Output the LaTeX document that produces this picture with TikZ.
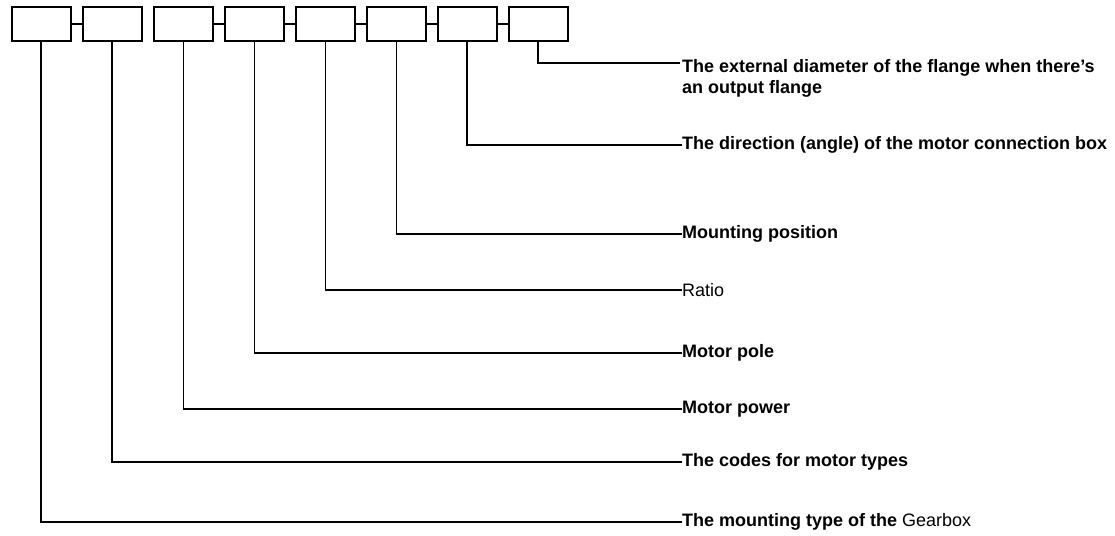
\documentclass[tikz,border=0pt]{standalone}
\usepackage{fontspec}
\setmainfont{Liberation Sans}
\begin{document}
\begin{tikzpicture}[x=1pt,y=-1pt,
  codebox/.style={draw,line width=2pt,minimum width=59pt,minimum height=34pt,inner sep=0pt},
  lead/.style={line width=1.8pt},
  lbl/.style={anchor=west,inner sep=0pt,font=\fontsize{18}{21}\selectfont\bfseries,align=left},
  lbln/.style={anchor=west,inner sep=0pt,font=\fontsize{18}{21}\selectfont,align=left}]
\useasboundingbox (0,0) rectangle (1115,535);
\foreach \i/\x in {1/41,2/112,3/183.5,4/254.5,5/325.5,6/396.5,7/467,8/538}{
  \node[codebox] (b\i) at (\x,24) {};
}
\foreach \a/\b in {1/2,3/4,4/5,5/6,6/7,7/8}{
  \draw[lead] (b\a.east) -- (b\b.west);
}
\node[lbl,anchor=north west] (t8) at (682,59) {The external diameter of the flange when there's\\an output flange};
\node[lbl] (t7) at (682,145) {The direction (angle) of the motor connection box};
\node[lbl] (t6) at (682,234) {Mounting position};
\node[lbln] (t5) at (682,290) {Ratio};
\node[lbl] (t4) at (682,353) {Motor pole};
\node[lbl] (t3) at (682,409) {Motor power};
\node[lbl] (t2) at (682,462) {The codes for motor types};
\node[lbl] (t1) at (682,522) {The mounting type of the \mdseries Gearbox};
\draw[lead] (b8.south) |- (680,63);
\foreach \i in {1,...,7}{
  \draw[lead] (b\i.south) |- (t\i.west);
}
\end{tikzpicture}
\end{document}
